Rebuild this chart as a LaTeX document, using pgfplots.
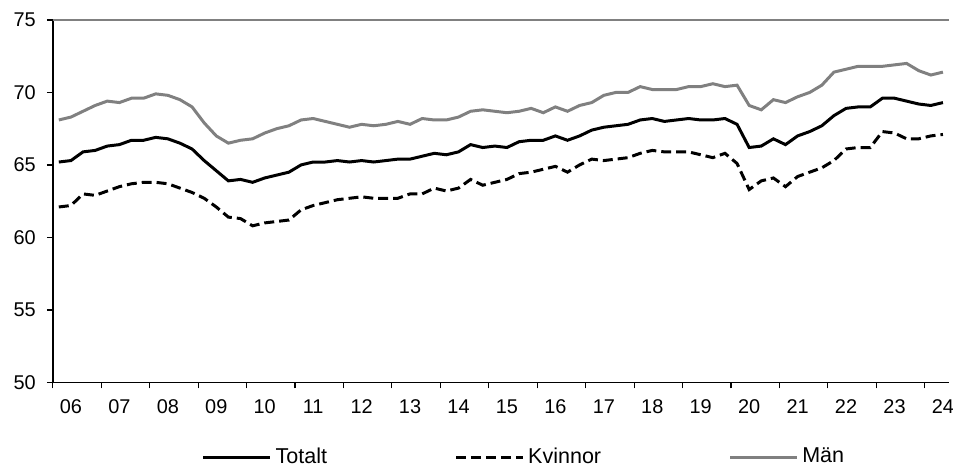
\documentclass[border=0pt]{standalone}
\usepackage{pgfplots}
\pgfplotsset{compat=1.18}
\usepackage{pgfplotstable}
\usepackage{fontspec}
\setmainfont{Liberation Sans}
\definecolor{mangray}{RGB}{128,128,128}

\pgfplotstableread{
i tot kv man
0 65.2 62.1 68.1
1 65.3 62.2 68.3
2 65.9 63.0 68.7
3 66.0 62.9 69.1
4 66.3 63.2 69.4
5 66.4 63.5 69.3
6 66.7 63.7 69.6
7 66.7 63.8 69.6
8 66.9 63.8 69.9
9 66.8 63.7 69.8
10 66.5 63.4 69.5
11 66.1 63.1 69.0
12 65.3 62.7 67.9
13 64.6 62.1 67.0
14 63.9 61.4 66.5
15 64.0 61.3 66.7
16 63.8 60.8 66.8
17 64.1 61.0 67.2
18 64.3 61.1 67.5
19 64.5 61.2 67.7
20 65.0 61.9 68.1
21 65.2 62.2 68.2
22 65.2 62.4 68.0
23 65.3 62.6 67.8
24 65.2 62.7 67.6
25 65.3 62.8 67.8
26 65.2 62.7 67.7
27 65.3 62.7 67.8
28 65.4 62.7 68.0
29 65.4 63.0 67.8
30 65.6 63.0 68.2
31 65.8 63.4 68.1
32 65.7 63.2 68.1
33 65.9 63.4 68.3
34 66.4 64.0 68.7
35 66.2 63.6 68.8
36 66.3 63.8 68.7
37 66.2 64.0 68.6
38 66.6 64.4 68.7
39 66.7 64.5 68.9
40 66.7 64.7 68.6
41 67.0 64.9 69.0
42 66.7 64.5 68.7
43 67.0 65.0 69.1
44 67.4 65.4 69.3
45 67.6 65.3 69.8
46 67.7 65.4 70.0
47 67.8 65.5 70.0
48 68.1 65.8 70.4
49 68.2 66.0 70.2
50 68.0 65.9 70.2
51 68.1 65.9 70.2
52 68.2 65.9 70.4
53 68.1 65.7 70.4
54 68.1 65.5 70.6
55 68.2 65.8 70.4
56 67.8 65.1 70.5
57 66.2 63.3 69.1
58 66.3 63.9 68.8
59 66.8 64.1 69.5
60 66.4 63.5 69.3
61 67.0 64.2 69.7
62 67.3 64.5 70.0
63 67.7 64.8 70.5
64 68.4 65.3 71.4
65 68.9 66.1 71.6
66 69.0 66.2 71.8
67 69.0 66.2 71.8
68 69.6 67.3 71.8
69 69.6 67.2 71.9
70 69.4 66.8 72.0
71 69.2 66.8 71.5
72 69.1 67.0 71.2
73 69.3 67.1 71.4
}\datatable

\begin{document}
\begin{tikzpicture}
\begin{axis}[
  at={(0,0)}, anchor=south west,
  width=450pt, height=182pt, scale only axis,
  xmin=-0.5, xmax=73.5, ymin=50, ymax=75,
  axis x line*=bottom, axis y line*=left,
  axis line style={line width=0.8pt, black},
  xtick={1,5,...,73},
  xticklabels={06,07,08,09,10,11,12,13,14,15,16,17,18,19,20,21,22,23,24},
  minor xtick={-0.5,3.5,...,71.5},
  major x tick style={draw=none},
  tick align=outside,
  major tick length=3pt, minor tick length=3pt,
  tick style={line width=0.6pt, black},
  ytick={50,55,...,75},
  /pgf/number format/assume math mode=true,
  tick label style={font=\fontsize{10}{12}\selectfont},
  xticklabel style={yshift=-2pt},
  yticklabel style={xshift=-2pt},
  clip=false,
  legend columns=3,
  legend style={draw=none, fill=none, at={(axis description cs:0.166,-0.206)}, anchor=west,
    font=\fontsize{10.8}{12}\selectfont, inner xsep=0pt,
    /tikz/every even column/.append style={column sep=62pt}},
  legend image code/.code={\draw[#1] (0pt,0pt) -- (33.5pt,0pt);},
]
\addplot[black, line width=1.5pt] table[x=i, y=tot] {\datatable};
\addlegendentry{Totalt}
\addplot[black, line width=1.5pt, dash pattern=on 5pt off 2.5pt] table[x=i, y=kv] {\datatable};
\addlegendentry{Kvinnor}
\addplot[mangray, line width=1.5pt] table[x=i, y=man] {\datatable};
\addlegendentry{Män}
\draw[mangray, line width=0.8pt] (rel axis cs:0,1) -- (rel axis cs:1,1);
\end{axis}
\pgfresetboundingbox
\path (-26.5pt,-42pt) rectangle (452pt,192pt);
\end{tikzpicture}
\end{document}
